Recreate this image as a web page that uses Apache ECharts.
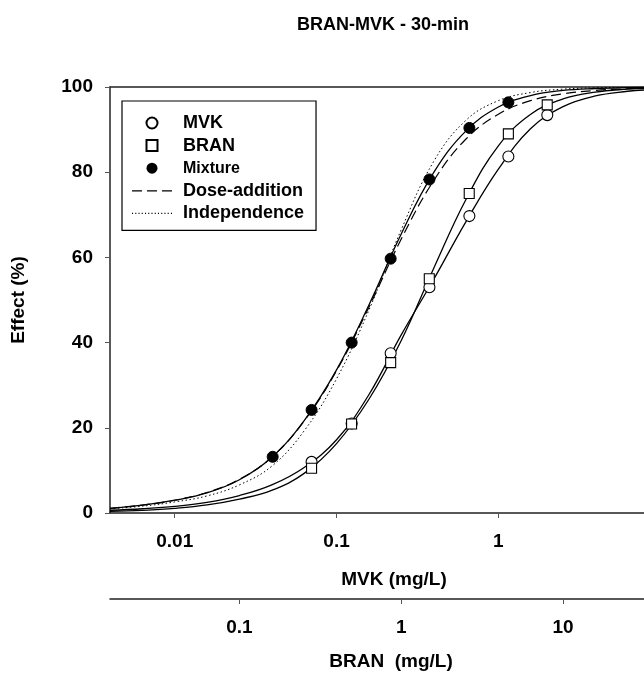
<!DOCTYPE html>
<html>
<head>
<meta charset="utf-8">
<script src="https://cdn.jsdelivr.net/npm/echarts@6/dist/echarts.min.js"></script>
<style>
html,body{margin:0;padding:0;background:#fff;}
#chart{width:644px;height:677px;}
</style>
</head>
<body>
<div id="chart"></div>
<script>
// ---- data ----
const titleText = 'BRAN-MVK - 30-min';
const yTicks = [0, 20, 40, 60, 80, 100];
const mvkTicks = [0.01, 0.1, 1];
const branTicks = [0.1, 1, 10];

// observed points
const mvkConc = [0.0701, 0.124, 0.216, 0.375, 0.662, 1.153, 2.006];       // MVK mg/L
const mvkEffect = [12.0, 21.0, 37.5, 53.0, 69.7, 83.7, 93.4];
const branConc = [0.279, 0.493, 0.860, 1.49, 2.63, 4.59, 7.98];           // BRAN mg/L
const branEffect = [10.5, 20.9, 35.3, 55.0, 75.0, 89.0, 95.8];
const mixConc = [0.0403, 0.0701, 0.124, 0.216, 0.375, 0.662, 1.153];      // MVK mg/L in mixture
const mixEffect = [13.2, 24.2, 40.0, 59.7, 78.3, 90.4, 96.4];

// curves read along the axis (sampled positions)
const curveConcMVK = [0.00398, 0.00631, 0.01, 0.0158, 0.0251, 0.0398, 0.0631, 0.1, 0.158, 0.251, 0.398, 0.631, 1, 1.58, 2.51, 3.98, 6.31, 7.94];
const curveConcBRAN = [0.0158, 0.0251, 0.0398, 0.0631, 0.1, 0.158, 0.251, 0.398, 0.631, 1, 1.58, 2.51, 3.98, 6.31, 10, 15.8, 25.1, 31.6];
const mvkFit = [0.64, 1.0, 1.55, 2.5, 4.1, 6.6, 10.7, 17.2, 27.7, 41.8, 54.8, 68.4, 80.7, 90.2, 95.4, 97.9, 99.0, 99.3];
const branFit = [0.36, 0.62, 1.09, 1.89, 3.26, 5.3, 9.3, 16.3, 26.7, 40.5, 57.3, 73.6, 86.2, 93.6, 97.2, 98.8, 99.5, 99.67];
const mixFit = [1.1, 1.85, 3.0, 4.7, 7.8, 13.1, 21.7, 33.6, 48.7, 65.5, 79.9, 89.7, 95.3, 98.0, 99.2, 99.65, 99.85, 99.9];
const doseAddition = [1.1, 1.85, 3.0, 4.8, 7.9, 13.1, 21.6, 33.4, 48.2, 64.3, 78.0, 87.8, 93.6, 96.8, 98.4, 99.2, 99.6, 99.7];
const independence = [1.0, 1.6, 2.6, 4.0, 6.6, 11.0, 19.3, 31.5, 47.5, 66.5, 82.5, 92.2, 96.8, 98.7, 99.5, 99.8, 99.9, 99.95];

const mvkRange = [0.0039811, 7.9433];
const branRange = [0.015849, 31.623];

function pairs(xs, ys) { return xs.map((x, i) => [x, ys[i]]); }

const FONT = 'Liberation Sans, Arial, sans-serif';
const chart = echarts.init(document.getElementById('chart'), null, {renderer: 'canvas'});

const lineBase = {type: 'line', xAxisIndex: 0, yAxisIndex: 0, symbol: 'none', smooth: 0.4, silent: true, z: 2};

// legend icons for the two reference lines (dashed and dotted strokes)
const dashIcon = 'path://M0,0H10V1.3H0Z M15,0H25V1.3H15Z M30,0H40V1.3H30Z';
let dotParts = [];
for (let k = 0; k <= 36; k += 3) dotParts.push('M' + k + ',0H' + (k + 1) + 'V1H' + k + 'Z');
const dotIcon = 'path://' + dotParts.join(' ');

chart.setOption({
  animation: false,
  backgroundColor: '#fff',
  title: {
    text: titleText, left: 378, top: 11, textAlign: 'center',
    textStyle: {fontFamily: FONT, fontSize: 18, fontWeight: 'bold', color: '#000'}
  },
  grid: {left: 110, right: 0, top: 87, bottom: 164, containLabel: false},
  legend: {
    orient: 'vertical', left: 122, top: 101,
    padding: [13, 12, 8, 10],
    borderColor: '#000', borderWidth: 1.2,
    itemWidth: 40, itemHeight: 11, itemGap: 4.6,
    selectedMode: false,
    textStyle: {fontFamily: FONT, fontSize: 18, fontWeight: 'bold', color: '#000', lineHeight: 18, padding: [0, 0, 0, 6]},
    data: [
      {name: 'MVK'},
      {name: 'BRAN', icon: 'path://M0,0H10V10H0Z'},
      {name: 'Mixture', textStyle: {fontSize: 16}},
      {name: 'Dose-addition', icon: dashIcon, itemStyle: {color: '#000', borderWidth: 0}},
      {name: 'Independence', icon: dotIcon, itemStyle: {color: '#000', borderWidth: 0}}
    ]
  },
  xAxis: [
    {
      type: 'log', logBase: 10, position: 'bottom', min: mvkRange[0], max: mvkRange[1],
      name: 'MVK (mg/L)', nameLocation: 'middle', nameGap: 57,
      nameTextStyle: {fontFamily: FONT, fontSize: 19, fontWeight: 'bold', color: '#000', padding: [0, 0, 0, 34]},
      axisLine: {show: true, lineStyle: {color: '#222', width: 1.5}},
      axisTick: {show: true, inside: false, length: 5, lineStyle: {color: '#555'}, customValues: mvkTicks},
      axisLabel: {show: true, margin: 19, customValues: mvkTicks, fontFamily: FONT, fontSize: 19, fontWeight: 'bold', color: '#000', formatter: v => String(v)},
      splitLine: {show: false}, minorTick: {show: false}
    },
    {
      type: 'log', logBase: 10, position: 'bottom', offset: 86, min: branRange[0], max: branRange[1],
      name: 'BRAN  (mg/L)', nameLocation: 'middle', nameGap: 53,
      nameTextStyle: {fontFamily: FONT, fontSize: 19, fontWeight: 'bold', color: '#000', padding: [0, 0, 0, 28]},
      axisLine: {show: true, lineStyle: {color: '#222', width: 1.5}},
      axisTick: {show: true, inside: false, length: 5, lineStyle: {color: '#555'}, customValues: branTicks},
      axisLabel: {show: true, margin: 19, customValues: branTicks, fontFamily: FONT, fontSize: 19, fontWeight: 'bold', color: '#000', formatter: v => String(v)},
      splitLine: {show: false}, minorTick: {show: false}
    },
    {
      type: 'log', logBase: 10, position: 'top', min: mvkRange[0], max: mvkRange[1],
      axisLine: {show: true, lineStyle: {color: '#222', width: 1.5}},
      axisTick: {show: false}, axisLabel: {show: false}, splitLine: {show: false}
    }
  ],
  yAxis: {
    type: 'value', min: 0, max: 100, interval: 20,
    name: 'Effect (%)', nameLocation: 'middle', nameGap: 82, nameRotate: 90,
    nameTextStyle: {fontFamily: FONT, fontSize: 19, fontWeight: 'bold', color: '#000'},
    axisLine: {show: true, lineStyle: {color: '#222', width: 1.5}},
    axisTick: {show: true, inside: false, length: 5, lineStyle: {color: '#555'}},
    axisLabel: {margin: 17, fontFamily: FONT, fontSize: 19, fontWeight: 'bold', color: '#000'},
    splitLine: {show: false}
  },
  series: [
    Object.assign({}, lineBase, {name: 'mvkFit', data: pairs(curveConcMVK, mvkFit), lineStyle: {color: '#000', width: 1.3}}),
    Object.assign({}, lineBase, {name: 'branFit', xAxisIndex: 1, data: pairs(curveConcBRAN, branFit), lineStyle: {color: '#000', width: 1.3}}),
    Object.assign({}, lineBase, {name: 'mixFit', data: pairs(curveConcMVK, mixFit), lineStyle: {color: '#000', width: 1.3}}),
    Object.assign({}, lineBase, {name: 'Dose-addition', data: pairs(curveConcMVK, doseAddition), itemStyle: {color: '#000'}, lineStyle: {color: '#000', width: 1.2, type: [10, 5]}}),
    Object.assign({}, lineBase, {name: 'Independence', data: pairs(curveConcMVK, independence), itemStyle: {color: '#000'}, lineStyle: {color: '#000', width: 1, type: [1.5, 2.5]}}),
    {
      name: 'MVK', type: 'scatter', xAxisIndex: 0, symbol: 'circle', symbolSize: 11, z: 5,
      itemStyle: {color: '#fff', borderColor: '#000', borderWidth: 1.1, opacity: 1},
      data: pairs(mvkConc, mvkEffect)
    },
    {
      name: 'BRAN', type: 'scatter', xAxisIndex: 1, symbol: 'rect', symbolSize: 10, z: 5,
      itemStyle: {color: '#fff', borderColor: '#000', borderWidth: 1.1, opacity: 1},
      data: pairs(branConc, branEffect)
    },
    {
      name: 'Mixture', type: 'scatter', xAxisIndex: 0, symbol: 'circle', symbolSize: 11, z: 5,
      itemStyle: {color: '#000', borderColor: '#000', opacity: 1},
      data: pairs(mixConc, mixEffect)
    }
  ]
});
</script>
</body>
</html>
